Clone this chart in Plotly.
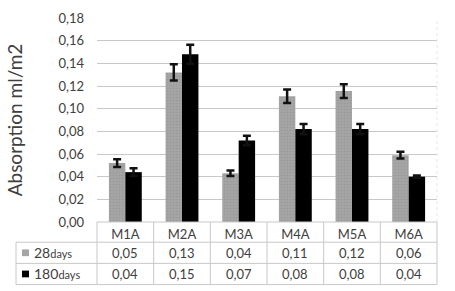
import plotly.graph_objects as go

categories = ["M1A", "M2A", "M3A", "M4A", "M5A", "M6A"]
series_names = ["28", "180"]
values_28 = [0.052, 0.132, 0.043, 0.111, 0.1155, 0.059]
values_180 = [0.044, 0.148, 0.072, 0.082, 0.082, 0.040]
err_28 = [0.0034, 0.0072, 0.0025, 0.006, 0.006, 0.003]
err_180 = [0.0034, 0.0084, 0.0042, 0.0045, 0.0045, 0.001]
y_ticks = [0.00, 0.02, 0.04, 0.06, 0.08, 0.10, 0.12, 0.14, 0.16, 0.18]

GRAY = "#a5a5a5"
BLACK = "#000000"
FONT = "Lato"
TXT = "#404040"
LINE = "#c8c8c8"

fig = go.Figure()
fig.add_trace(go.Bar(
    x=categories, y=values_28, name=series_names[0] + "days",
    marker=dict(color=GRAY, line=dict(width=0),
                pattern=dict(shape=".", fgcolor="#8c8c8c", size=3, solidity=0.25)),
    error_y=dict(type="data", array=err_28, color="#111111", thickness=2.5, width=4),
))
fig.add_trace(go.Bar(
    x=categories, y=values_180, name=series_names[1] + "days",
    marker=dict(color=BLACK, line=dict(width=0)),
    error_y=dict(type="data", array=err_180, color="#111111", thickness=2.5, width=4),
))

W, H = 455, 291
ml, mr, mt, mb = 97, 18, 10, 69
pw = W - ml - mr
ph = H - mt - mb


def px_x(p):
    return (p - ml) / pw


def px_y(p):
    return (H - mb - p) / ph


row_h = [21, 22, 22]
y0 = 0.0
y1 = px_y(H - mb + row_h[0])
y2 = px_y(H - mb + row_h[0] + row_h[1])
y3 = px_y(H - mb + sum(row_h))
left = px_x(16)

shapes = []
lc = dict(color=LINE, width=1)
# horizontal lines
shapes.append(dict(type="line", xref="paper", yref="paper", x0=0, x1=1, y0=y0, y1=y0, line=lc))
for yy in (y1, y2, y3):
    shapes.append(dict(type="line", xref="paper", yref="paper", x0=left, x1=1, y0=yy, y1=yy, line=lc))
# vertical lines
n = len(categories)
for i in range(n + 1):
    xx = i / n
    shapes.append(dict(type="line", xref="paper", yref="paper", x0=xx, x1=xx, y0=y0, y1=y3, line=lc))
shapes.append(dict(type="line", xref="paper", yref="paper", x0=left, x1=left, y0=y1, y1=y3, line=lc))
# faint right border of plot
shapes.append(dict(type="line", xref="paper", yref="paper", x0=1, x1=1, y0=0, y1=1,
                   line=dict(color="#e6e6e6", width=1, dash="dot")))
# legend squares
for yy_top, yy_bot, col in ((y1, y2, GRAY), (y2, y3, BLACK)):
    cy = (yy_top + yy_bot) / 2
    shapes.append(dict(type="rect", xref="paper", yref="paper",
                       x0=px_x(22), x1=px_x(29), y0=cy - 3.5 / ph, y1=cy + 3.5 / ph,
                       fillcolor=col, line=dict(width=0)))

annotations = []
rows = [(values_28, (y1 + y2) / 2), (values_180, (y2 + y3) / 2)]
for vals, cy in rows:
    for c, v in zip(categories, vals):
        annotations.append(dict(x=c, xref="x", y=cy, yref="paper", text=f"{v:.2f}".replace(".", ","),
                                showarrow=False, font=dict(family=FONT, size=13, color=TXT),
                                xanchor="center", yanchor="middle"))
for name, (vals, cy) in zip(series_names, rows):
    annotations.append(dict(x=px_x(32), xref="paper", y=cy, yref="paper",
                            text=f"{name}<span style='font-size:11px'>days</span>",
                            showarrow=False, font=dict(family=FONT, size=14, color=TXT),
                            xanchor="left", yanchor="middle"))

fig.update_layout(
    width=W, height=H,
    margin=dict(l=ml, r=mr, t=mt, b=mb),
    paper_bgcolor="white", plot_bgcolor="white",
    separators=",.",
    barmode="group", bargap=0.42, bargroupgap=0,
    showlegend=False,
    font=dict(family=FONT, color=TXT),
    shapes=shapes, annotations=annotations,
)
fig.update_xaxes(
    showgrid=False, zeroline=False, showline=False,
    ticks="", tickfont=dict(family=FONT, size=13, color=TXT), ticklabelstandoff=3,
)
fig.update_yaxes(
    range=[0, 0.18], tickvals=y_ticks, tickformat=".2f",
    showgrid=True, gridcolor=LINE, gridwidth=1, zeroline=False, showline=False,
    ticks="", ticklabelstandoff=12,
    tickfont=dict(family=FONT, size=13, color=TXT),
    title=dict(text="Absorption ml/m2", font=dict(family=FONT, size=19, color="#404040"), standoff=30),
)

fig.write_html("out.html", config={"displayModeBar": False},
               post_script="document.body.style.margin='0';")
